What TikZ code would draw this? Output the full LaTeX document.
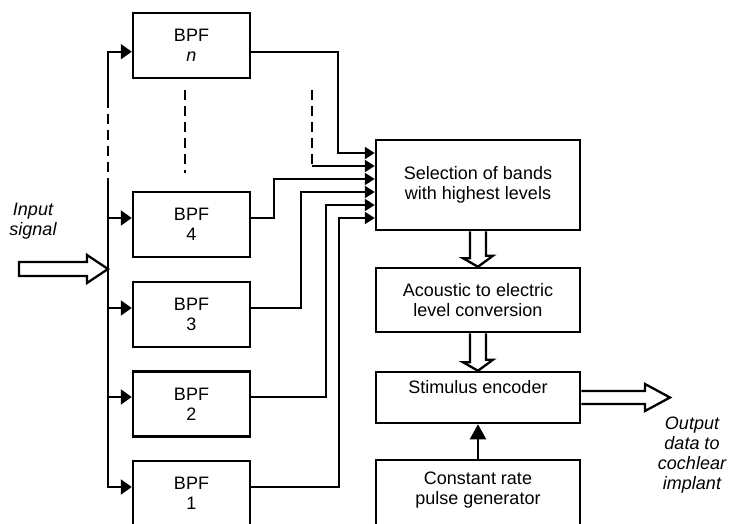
\documentclass[tikz,border=0pt]{standalone}
\usepackage{fontspec}
\setmainfont{Liberation Sans}
\usetikzlibrary{arrows.meta,calc}
\begin{document}
\begin{tikzpicture}[x=1pt,y=-1pt,
  txt/.style={font=\fontsize{18}{20}\selectfont},
  box/.style={draw, line width=2.5pt, minimum width=117pt, minimum height=65pt, align=center, inner sep=0pt, txt},
  bigbox/.style={box, minimum width=204pt},
  toplbl/.style={txt, align=center, inner sep=0pt, anchor=north},
  wire/.style={line width=2.2pt},
  bustip/.style={-{Triangle[length=11pt,width=15pt]}},
  seltip/.style={-{Triangle[length=10pt,width=12pt]}},
  hollow/.style={line width=2.3pt, line join=miter},
  dashline/.style={wire, dash pattern=on 10pt off 6pt},
  lbl/.style={align=center, font=\fontsize{18}{20}\selectfont\itshape}
]
\useasboundingbox (0,0) rectangle (731,524);

% filter boxes
\node[box] (bpfn) at (191.5,45.5) {BPF\\\textit{n}};
\node[box] (bpf4) at (191.5,224.5) {BPF\\4};
\node[box] (bpf3) at (191.5,314.5) {BPF\\3};
\node[box] (bpf2) at (191.5,404) {BPF\\2};
\node[box] (bpf1) at (191.5,493.5) {BPF\\1};

% processing boxes
\node[bigbox, minimum height=90pt] (sel) at (478,185) {Selection of bands\\with highest levels};
\node[bigbox, minimum height=64pt] (acou) at (478,300) {Acoustic to electric\\level conversion};
\node[bigbox, minimum height=51pt,
  label={[toplbl, yshift=-9.5pt]north:Stimulus encoder}] (enc) at (478,397.5) {};
\node[bigbox, minimum height=70pt,
  label={[toplbl, yshift=-12.5pt]north:Constant rate\\pulse generator}] (pulse) at (478,495) {};

% labels
\node[lbl] (inlbl) at (33,221) {Input\\signal};
\node[lbl] (outlbl) at (692,455) {Output\\data to\\cochlear\\implant};

% ports
\coordinate (pn) at ($(bpfn.west)+(0,6.2)$);
\coordinate (p4) at ($(bpf4.west)+(0,-6.5)$);
\coordinate (p3) at ($(bpf3.west)+(0,-6.5)$);
\coordinate (p2) at ($(bpf2.west)+(0,-7)$);
\coordinate (p1) at ($(bpf1.west)+(0,-6.5)$);
\coordinate (bx) at (108,0);
\coordinate (bd1) at (108,98);
\coordinate (bd2) at (108,178);

% input bus
\draw[wire,bustip] (bd1) |- (pn);
\draw[dashline] (bd1) -- (bd2);
\draw[wire,bustip] (bd2) |- (p1);
\draw[wire,bustip] (bx |- p4) -- (p4);
\draw[wire,bustip] (bx |- p3) -- (p3);
\draw[wire,bustip] (bx |- p2) -- (p2);

% dashed "more filters"
\coordinate (md1) at (185,90);
\coordinate (md2) at (185,173);
\draw[dashline] (md1) -- (md2);

% input hollow arrow
\coordinate (inl) at (19,269);
\coordinate (intip) at (108,269);
\draw[hollow] ($(inl)+(0,-7)$) -- ($(intip)+(-21,-7)$) -- ($(intip)+(-21,-14)$) -- (intip)
  -- ($(intip)+(-21,14)$) -- ($(intip)+(-21,7)$) -- ($(inl)+(0,7)$) -- cycle;

% filter outputs to selection
\draw[wire,seltip] ($(bpfn.east)+(0,6.2)$) -- ++(87,0) |- ($(sel.west)+(0,-32)$);
\coordinate (s2) at ($(sel.west)+(0,-19)$);
\coordinate (dtop) at (312,90);
\draw[dashline] (dtop) -- (dtop |- s2);
\draw[wire,seltip] (dtop |- s2) -- (s2);
\draw[wire,seltip] ($(bpf4.east)+(0,-6.5)$) -- ++(23,0) |- ($(sel.west)+(0,-6)$);
\draw[wire,seltip] ($(bpf3.east)+(0,-6.5)$) -- ++(50,0) |- ($(sel.west)+(0,7)$);
\draw[wire,seltip] ($(bpf2.east)+(0,-7)$) -- ++(75,0) |- ($(sel.west)+(0,20)$);
\draw[wire,seltip] ($(bpf1.east)+(0,-6.5)$) -- ++(88,0) |- ($(sel.west)+(0,33)$);

% hollow arrows between processing boxes
\draw[hollow] ($(sel.south)+(-8,0)$) -- ++(0,27) -- ++(-7,0) -- (acou.north) -- ++(15,-11) -- ++(-7,0) -- ($(sel.south)+(8,0)$);
\draw[hollow] ($(acou.south)+(-8,0)$) -- ++(0,29) -- ++(-7,0) -- (enc.north) -- ++(15,-11) -- ++(-7,0) -- ($(acou.south)+(8,0)$);

% pulse generator to encoder
\draw[wire,-{Triangle[length=15pt,width=16pt]}] (pulse.north) -- (enc.south);

% output hollow arrow
\coordinate (otip) at (670,397.5);
\draw[hollow] ($(enc.east)+(0,-6.5)$) -- ($(otip)+(-25,-6.5)$) -- ($(otip)+(-25,-13.5)$) -- (otip)
  -- ($(otip)+(-25,13.5)$) -- ($(otip)+(-25,6.5)$) -- ($(enc.east)+(0,6.5)$);
\end{tikzpicture}
\end{document}
